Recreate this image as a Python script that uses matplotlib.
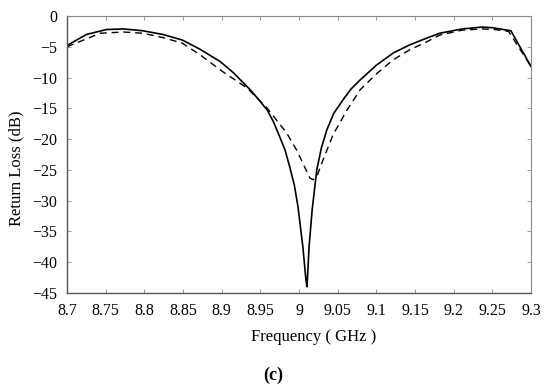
import numpy as np
import matplotlib
matplotlib.use("Agg")
import matplotlib.pyplot as plt

# solid curve
freq_solid = [8.700, 8.725, 8.751, 8.773, 8.798, 8.824, 8.849, 8.872, 8.898, 8.915,
              8.937, 8.948, 8.959, 8.967, 8.975, 8.982, 8.988, 8.994, 8.9987, 9.005,
              9.009, 9.0104, 9.013, 9.017, 9.023, 9.029, 9.036, 9.045, 9.057, 9.067,
              9.079, 9.100, 9.122, 9.143, 9.165, 9.182, 9.211, 9.237, 9.250, 9.274,
              9.300]
rl_solid = [-4.8, -3.0, -2.2, -2.1, -2.4, -3.0, -3.9, -5.4, -7.4, -9.2,
            -12.0, -13.6, -15.3, -17.2, -19.6, -21.8, -24.5, -27.5, -31.0, -37.5,
            -42.9, -44.0, -37.5, -31.5, -25.0, -21.4, -18.5, -15.8, -13.6, -11.9,
            -10.4, -8.0, -6.0, -4.7, -3.6, -2.8, -2.1, -1.8, -1.9, -2.4,
            -8.2]

# dashed curve
freq_dash = [8.700, 8.743, 8.773, 8.798, 8.824, 8.849, 8.872, 8.902, 8.933, 8.959,
             8.984, 8.997, 9.014, 9.018, 9.023, 9.031, 9.044, 9.062, 9.079, 9.101,
             9.122, 9.143, 9.165, 9.182, 9.211, 9.237, 9.254, 9.271, 9.300]
rl_dash = [-5.0, -2.8, -2.6, -2.8, -3.5, -4.4, -6.3, -9.1, -11.7, -15.0,
           -19.0, -21.8, -26.3, -26.6, -26.1, -23.4, -19.3, -15.3, -12.0, -9.3,
           -7.1, -5.5, -4.2, -3.1, -2.3, -2.1, -2.2, -2.5, -8.2]

xticks = [8.7, 8.75, 8.8, 8.85, 8.9, 8.95, 9.0, 9.05, 9.1, 9.15, 9.2, 9.25, 9.3]
xtick_labels = ["8.7", "8.75", "8.8", "8.85", "8.9", "8.95", "9", "9.05", "9.1",
                "9.15", "9.2", "9.25", "9.3"]
yticks = [0, -5, -10, -15, -20, -25, -30, -35, -40, -45]
ytick_labels = ["0", "\u22125", "\u221210", "\u221215", "\u221220", "\u221225",
                "\u221230", "\u221235", "\u221240", "\u221245"]

plt.rcParams['font.family'] = ['Liberation Serif', 'DejaVu Serif']

fig = plt.figure(figsize=(5.5, 3.89), dpi=100)
ax = fig.add_axes([67 / 550, 1 - 293 / 389, (531 - 67) / 550, (293 - 16) / 389])

ax.plot(freq_solid, rl_solid, color='black', lw=1.2, ls='-')
ax.plot(freq_dash, rl_dash, color='black', lw=1.0, ls=(0, (5, 3.5)))

ax.set_xlim(8.7, 9.3)
ax.set_ylim(-45, 0)
ax.set_xticks(xticks)
ax.set_xticklabels(xtick_labels)
ax.set_yticks(yticks)
ax.set_yticklabels(ytick_labels)
ax.tick_params(direction='in', length=3, width=0.6, color='#888888',
               top=True, right=True, labelsize=11.5, pad=7)

for side in ['left', 'bottom']:
    ax.spines[side].set_color('#555555')
    ax.spines[side].set_linewidth(1.0)
for side in ['top', 'right']:
    ax.spines[side].set_color('#888888')
    ax.spines[side].set_linewidth(0.8)

ax.set_xlabel('Frequency ( GHz )', fontsize=12)
ax.set_ylabel('Return Loss (dB)', fontsize=12)
ax.xaxis.set_label_coords(0.532, (293 - 337) / 277, transform=ax.transAxes)
ax.yaxis.set_label_coords((16 - 67) / 464, 0.451, transform=ax.transAxes)
ax.xaxis.label.set_va('center')
ax.yaxis.label.set_va('center')

fig.text(273 / 550, 1 - 375 / 389, '(c)', ha='center', va='center',
         fontsize=13, fontweight='bold')

fig.savefig('out.png', dpi=100)
